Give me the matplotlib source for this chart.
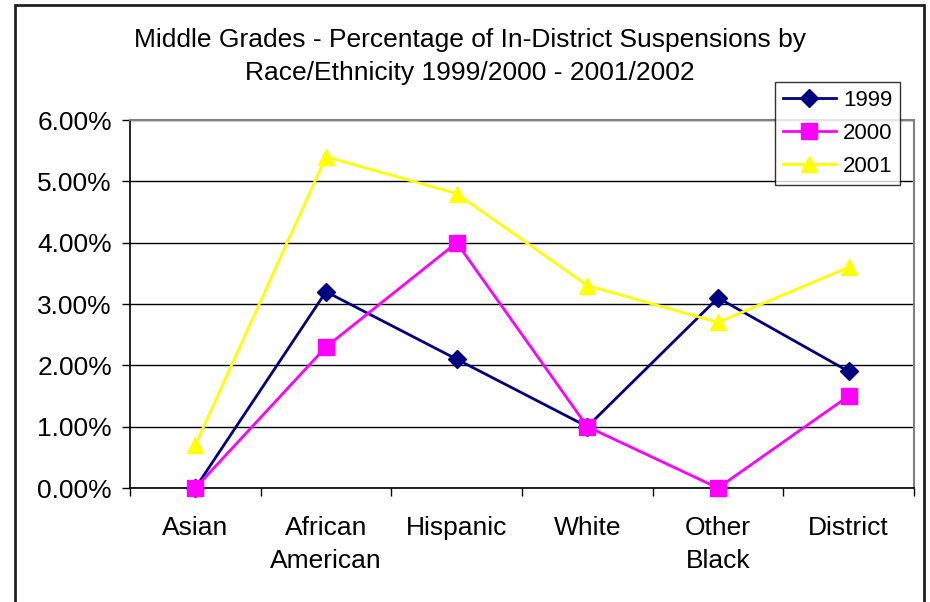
import matplotlib
matplotlib.use("Agg")
import matplotlib.pyplot as plt
from matplotlib.patches import Rectangle
from matplotlib.ticker import FixedLocator, NullFormatter, FuncFormatter

categories = ["Asian", "African\nAmerican", "Hispanic", "White", "Other\nBlack", "District"]
series_names = ["1999", "2000", "2001"]
values_1999 = [0.0, 3.2, 2.1, 1.0, 3.1, 1.9]
values_2000 = [0.0, 2.3, 4.0, 1.0, 0.0, 1.5]
values_2001 = [0.7, 5.4, 4.8, 3.3, 2.7, 3.6]
yticks = [0, 1, 2, 3, 4, 5, 6]

plt.rcParams['font.family'] = ['Liberation Sans', 'DejaVu Sans']

fig = plt.figure(figsize=(9.30, 6.02), dpi=100)
W, H = 930, 602
ax = fig.add_axes([130 / W, (H - 488) / H, 784 / W, 368 / H])

x = list(range(len(categories)))
styles = [
    (values_1999, "#000080", "D", 9),
    (values_2000, "#FF00FF", "s", 11),
    (values_2001, "#FFFF00", "^", 11),
]
for (vals, col, mk, ms), name in zip(styles, series_names):
    ax.plot(x, vals, color=col, marker=mk, markersize=ms, linewidth=2,
            markerfacecolor=col, markeredgecolor=col, label=name, zorder=3, clip_on=False)

ax.set_xlim(-0.5, len(categories) - 0.5)
ax.set_ylim(0, 6)
ax.set_yticks(yticks)
ax.yaxis.set_major_formatter(FuncFormatter(lambda v, p: f"{v:.2f}%"))
ax.grid(axis='y', color='black', linewidth=1)
ax.set_axisbelow(True)

ax.xaxis.set_major_locator(FixedLocator([i - 0.5 for i in range(len(categories) + 1)]))
ax.xaxis.set_major_formatter(NullFormatter())
ax.xaxis.set_minor_locator(FixedLocator(x))
ax.set_xticklabels(categories, minor=True)
ax.tick_params(axis='x', which='minor', length=0, pad=20, labelsize=19)
ax.tick_params(axis='x', which='major', length=6, width=1, direction='out', color='black')
ax.tick_params(axis='y', length=6, width=1, direction='out', labelsize=19, pad=7)
for lbl in ax.get_xticklabels(minor=True):
    lbl.set_linespacing(1.5)
    lbl.set_verticalalignment('top')

for s in ['top', 'right']:
    ax.spines[s].set_color('#808080')
    ax.spines[s].set_linewidth(1.5)
for s in ['left', 'bottom']:
    ax.spines[s].set_color('black')
    ax.spines[s].set_linewidth(1.2)

fig.text(470 / W, 1 - 40 / H, "Middle Grades - Percentage of In-District Suspensions by",
         ha='center', va='center', fontsize=19)
fig.text(470 / W, 1 - 73 / H, "Race/Ethnicity 1999/2000 - 2001/2002",
         ha='center', va='center', fontsize=19)

leg = ax.legend(loc='upper left', bbox_to_anchor=(775 / W, 1 - 82 / H), bbox_transform=fig.transFigure,
                frameon=True, fancybox=False, edgecolor='black', fontsize=16,
                handlelength=2.4, borderpad=0.35, labelspacing=0.55, handletextpad=0.3,
                borderaxespad=0)
leg.get_frame().set_linewidth(1)

fig.patches.append(Rectangle((15 / W, -0.1), (924 - 15) / W, 1.1 - 4.5 / H,
                             transform=fig.transFigure, fill=False, edgecolor='#202020',
                             linewidth=2))

fig.savefig("out.png", dpi=100, facecolor='white')
